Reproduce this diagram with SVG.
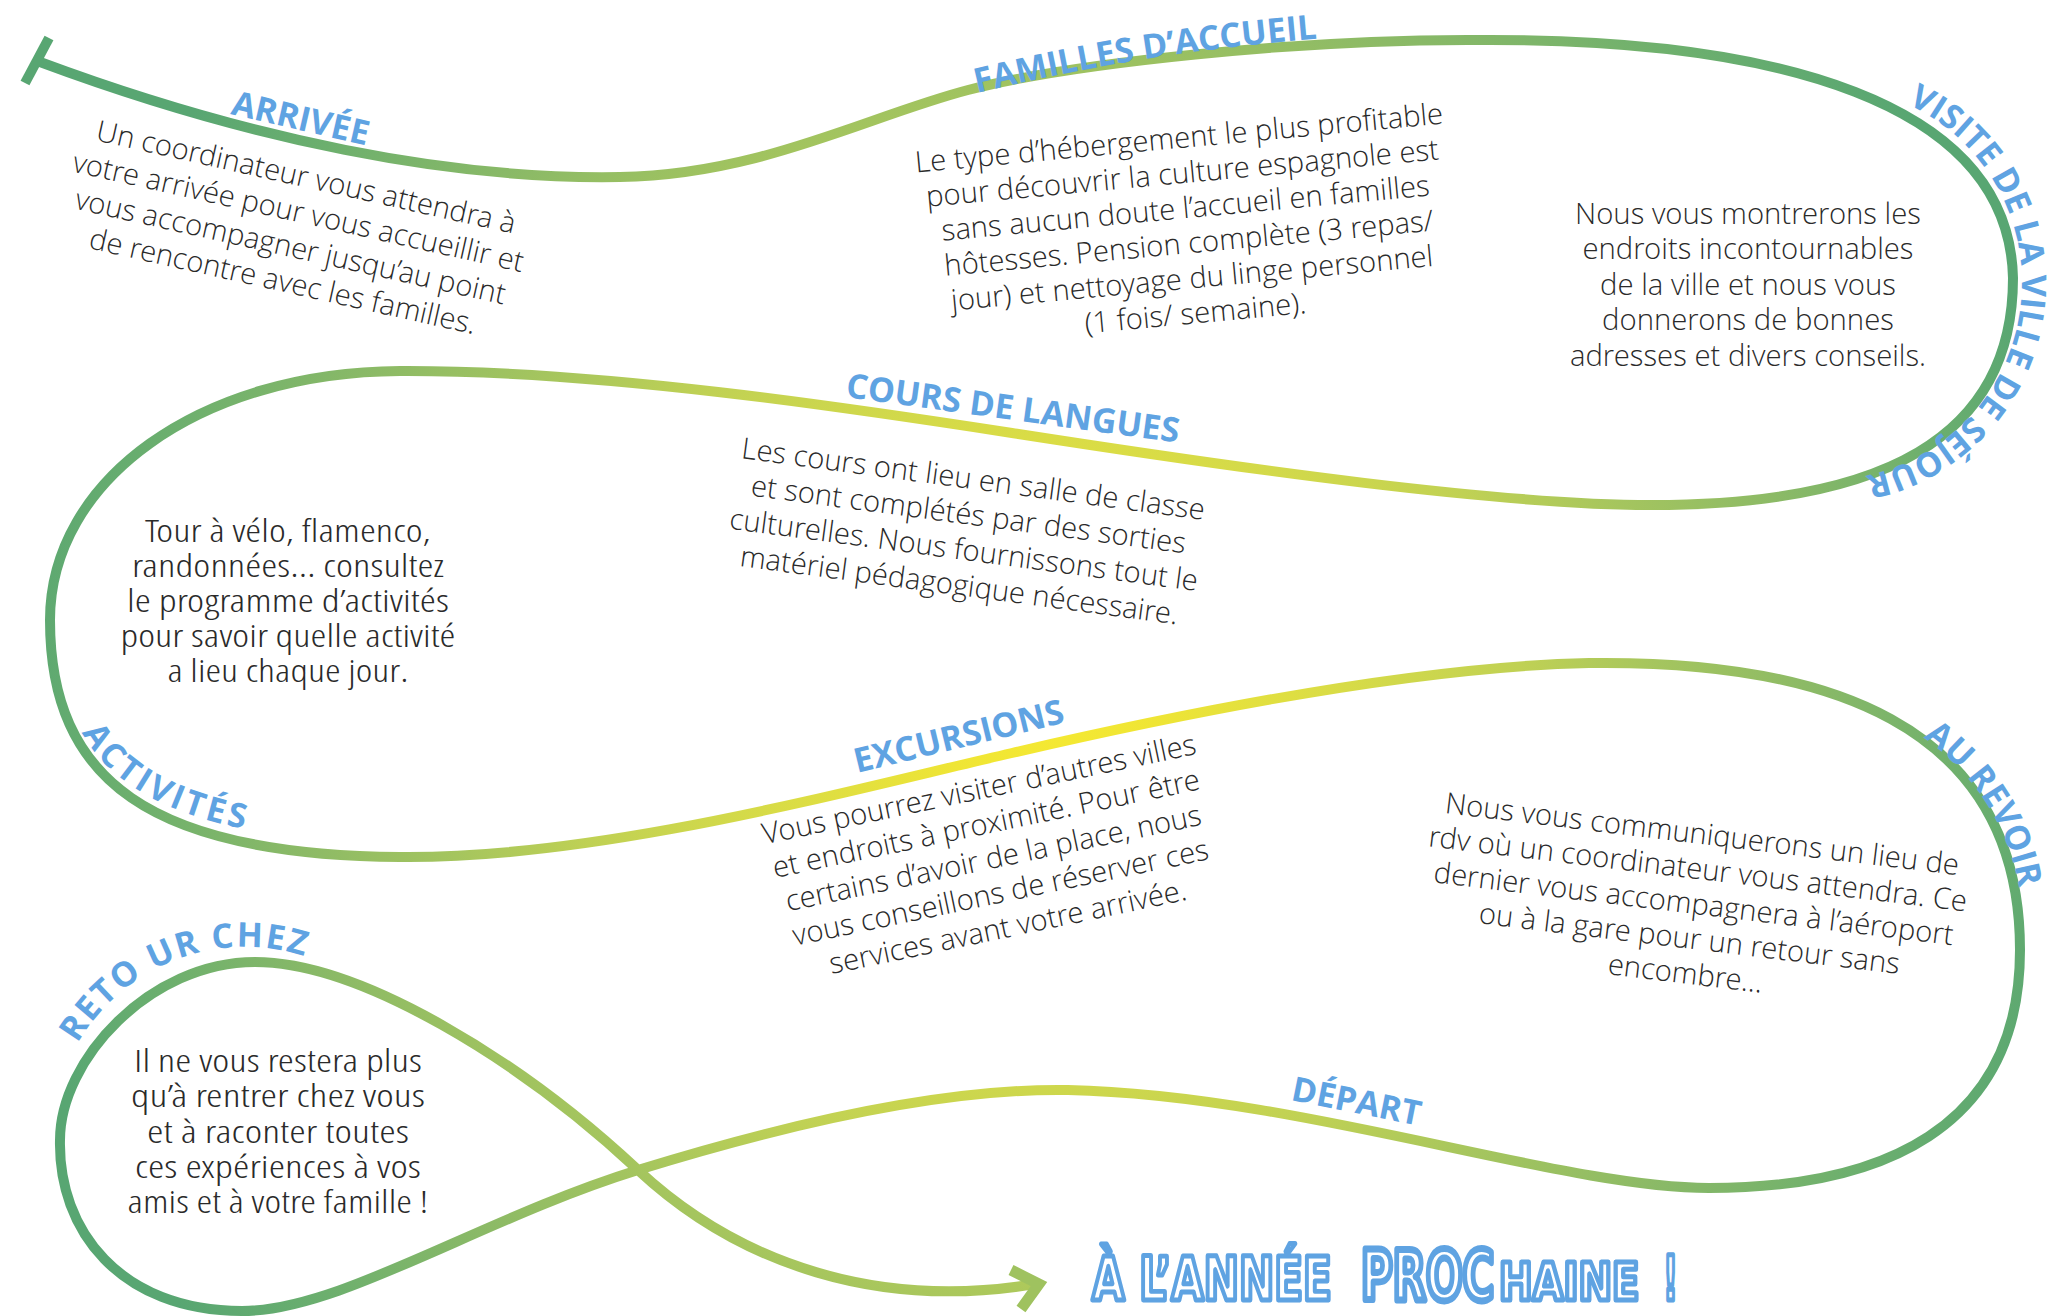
<svg xmlns="http://www.w3.org/2000/svg" width="2058" height="1316" viewBox="0 0 2058 1316">
<style>
.b{font-family:"Open Sans Light","Open Sans","Liberation Sans",sans-serif;font-weight:300;font-size:29.3px;fill:#2a2a2a;text-anchor:middle}
.c{font-family:"Open Sans Condensed Light","Open Sans Light","Open Sans","Liberation Sans",sans-serif;font-weight:300;font-size:31px;fill:#2a2a2a;text-anchor:middle;font-stretch:condensed}
.lbl{font-family:"Open Sans","Liberation Sans",sans-serif;font-weight:700;font-size:34px;fill:#5fa3e2}
.fin{font-family:"DejaVu Sans Condensed","DejaVu Sans",sans-serif;font-weight:700;fill:#ffffff;stroke:#5fa3e2;stroke-linejoin:round}
.road{fill:none;stroke:url(#g);stroke-width:10;stroke-linecap:butt;stroke-linejoin:round}
</style>
<defs>
<radialGradient id="g" gradientUnits="userSpaceOnUse" cx="1050" cy="720" r="1050">
<stop offset="0" stop-color="#f5e932"/>
<stop offset="0.1" stop-color="#efe535"/>
<stop offset="0.27" stop-color="#d9dc46"/>
<stop offset="0.45" stop-color="#c0d154"/>
<stop offset="0.58" stop-color="#a5c55e"/>
<stop offset="0.72" stop-color="#8cba66"/>
<stop offset="0.88" stop-color="#6caf6e"/>
<stop offset="1" stop-color="#58a672"/>
</radialGradient>
<path id="pFam" d="M977,93 C1050,76 1150,52 1335,37"/>
<path id="pVis" d="M1897.2,99.7 A197,197 0 0 1 1854.1,477.8"/>
<path id="pAct" d="M74,712 C88,760 140,815 270,833"/>
<path id="pRev" d="M1908.5,728.4 A227,227 0 0 1 2021.1,905.2"/>
<path id="pRet" d="M72,1054 A193,193 0 0 1 317.3,961"/>
</defs>
<rect width="2058" height="1316" fill="#ffffff"/>

<g id="connectors">
<path class="road" d="M40,62 C250,140 450,180 620,177 C760,175 868,116 968,90 C1068,64 1300,38 1490,40 C1770,40 2009,99 2013,278 C2013,440 1880,505 1652,505 C1500,505 1250,470 1012,433 C850,408 600,370 400,371 C200,372 50,480 50,620 C50,780 150,855 400,857 C600,859 850,790 1012,753 C1150,721 1400,667 1589,663 C1820,660 2020,720 2020,950 C2020,1130 1880,1188 1709,1188 C1560,1188 1300,1095 1068,1090 C950,1088 800,1120 638,1170 C480,1219 340,1311 242,1311 C120,1311 58,1230 60,1140 C60,1060 150,962 255,962 C360,962 520,1060 638,1170 C740,1265 880,1310 1035,1284"/>
<line x1="25" y1="83" x2="49" y2="38" stroke="#58a672" stroke-width="10"/>
<polyline points="1011,1270 1039,1284 1021,1309" fill="none" stroke="#9fc25f" stroke-width="11" stroke-linejoin="miter"/>
</g>

<g id="arrivee">
<text class="lbl" transform="translate(230,114) rotate(13)">ARRIVÉE</text>
<g transform="translate(304,187) rotate(12.6)">
<text class="b" x="0" y="0">Un coordinateur vous attendra à</text>
<text class="b" x="0" y="35.6">votre arrivée pour vous accueillir et</text>
<text class="b" x="0" y="71.2">vous accompagner jusqu’au point</text>
<text class="b" x="0" y="106.8">de rencontre avec les familles.</text>
</g>
</g>

<g id="familles">
<text class="lbl"><textPath href="#pFam">FAMILLES D’ACCUEIL</textPath></text>
<g transform="translate(1180,148) rotate(-5.3)">
<text class="b" x="0" y="0">Le type d’hébergement le plus profitable</text>
<text class="b" x="0" y="35.2">pour découvrir la culture espagnole est</text>
<text class="b" x="0" y="70.4">sans aucun doute l’accueil en familles</text>
<text class="b" x="0" y="105.6">hôtesses. Pension complète (3 repas/</text>
<text class="b" x="0" y="140.8">jour) et nettoyage du linge personnel</text>
<text class="b" x="0" y="176">(1 fois/ semaine).</text>
</g>
</g>

<g id="visite">
<text class="lbl" text-anchor="middle"><textPath href="#pVis" startOffset="50%">VISITE DE LA VILLE DE SÉJOUR</textPath></text>
<text class="b" x="1748" y="224">Nous vous montrerons les</text>
<text class="b" x="1748" y="259.4">endroits incontournables</text>
<text class="b" x="1748" y="294.8">de la ville et nous vous</text>
<text class="b" x="1748" y="330.2">donnerons de bonnes</text>
<text class="b" x="1748" y="365.6">adresses et divers conseils.</text>
</g>

<g id="cours">
<text class="lbl" transform="translate(845,397) rotate(7.8)">COURS DE LANGUES</text>
<g transform="translate(972,489) rotate(7.6)">
<text class="b" x="0" y="0">Les cours ont lieu en salle de classe</text>
<text class="b" x="0" y="35.7">et sont complétés par des sorties</text>
<text class="b" x="0" y="71.4">culturelles. Nous fournissons tout le</text>
<text class="b" x="0" y="107.1">matériel pédagogique nécessaire.</text>
</g>
</g>

<g id="activites">
<text class="lbl" letter-spacing="3.5"><textPath href="#pAct" startOffset="22">ACTIVITÉS</textPath></text>
<text class="c" x="288" y="542" textLength="286" lengthAdjust="spacingAndGlyphs">Tour à vélo, flamenco,</text>
<text class="c" x="288" y="577" textLength="312" lengthAdjust="spacingAndGlyphs">randonnées… consultez</text>
<text class="c" x="288" y="612" textLength="322" lengthAdjust="spacingAndGlyphs">le programme d’activités</text>
<text class="c" x="288" y="647" textLength="335" lengthAdjust="spacingAndGlyphs">pour savoir quelle activité</text>
<text class="c" x="288" y="682" textLength="241" lengthAdjust="spacingAndGlyphs">a lieu chaque jour.</text>
</g>

<g id="excursions">
<text class="lbl" transform="translate(857,773) rotate(-13.6)">EXCURSIONS</text>
<g transform="translate(981,799) rotate(-11.8)">
<text class="b" x="0" y="0">Vous pourrez visiter d’autres villes</text>
<text class="b" x="0" y="35.2">et endroits à proximité. Pour être</text>
<text class="b" x="0" y="70.4">certains d’avoir de la place, nous</text>
<text class="b" x="0" y="105.6">vous conseillons de réserver ces</text>
<text class="b" x="0" y="140.8">services avant votre arrivée.</text>
</g>
</g>

<g id="aurevoir">
<text class="lbl" text-anchor="middle"><textPath href="#pRev" startOffset="50%">AU REVOIR</textPath></text>
<g transform="translate(1701,844) rotate(6.9)">
<text class="b" x="0" y="0">Nous vous communiquerons un lieu de</text>
<text class="b" x="0" y="35.1">rdv où un coordinateur vous attendra. Ce</text>
<text class="b" x="0" y="70.2">dernier vous accompagnera à l’aéroport</text>
<text class="b" x="0" y="105.3">ou à la gare pour un retour sans</text>
<text class="b" x="0" y="140.4">encombre…</text>
</g>
</g>

<g id="depart">
<text class="lbl" transform="translate(1290,1100) rotate(11.3)">DÉPART</text>
</g>

<g id="retour">
<text class="lbl" text-anchor="middle" letter-spacing="2"><textPath href="#pRet" startOffset="50%">RETO UR CHEZ</textPath></text>
<text class="c" x="278" y="1072" textLength="288" lengthAdjust="spacingAndGlyphs">Il ne vous restera plus</text>
<text class="c" x="278" y="1107" textLength="294" lengthAdjust="spacingAndGlyphs">qu’à rentrer chez vous</text>
<text class="c" x="278" y="1143" textLength="262" lengthAdjust="spacingAndGlyphs">et à raconter toutes</text>
<text class="c" x="278" y="1178" textLength="286" lengthAdjust="spacingAndGlyphs">ces expériences à vos</text>
<text class="c" x="278" y="1213" textLength="301" lengthAdjust="spacingAndGlyphs">amis et à votre famille !</text>
</g>

<g id="fin">
<text class="fin" transform="translate(1092,1300) scale(0.74,1)" font-size="60" stroke-width="5" textLength="324" lengthAdjust="spacingAndGlyphs">À L’ANNÉE</text>
<text class="fin" transform="translate(1361,1300) scale(0.66,1)" font-size="70" stroke-width="7" textLength="202" lengthAdjust="spacingAndGlyphs">PROC</text>
<text class="fin" transform="translate(1499,1300) scale(0.84,1)" font-size="52" stroke-width="5" textLength="167" lengthAdjust="spacingAndGlyphs">HAINE</text>
<text class="fin" transform="translate(1663,1300) scale(0.6,1)" font-size="62" stroke-width="5" textLength="25" lengthAdjust="spacingAndGlyphs">!</text>
</g>
</svg>
